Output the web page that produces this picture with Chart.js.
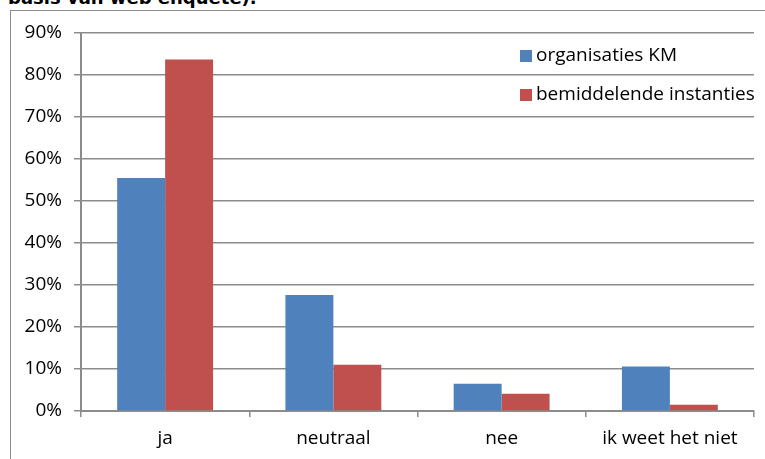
<!DOCTYPE html>
<html><head><meta charset="utf-8">
<script src="https://cdn.jsdelivr.net/npm/chart.js@4/dist/chart.umd.min.js"></script>
<style>
html,body{margin:0;padding:0;background:#fff;}
#wrap{position:relative;width:765px;height:459px;overflow:hidden;}
#frame{position:absolute;left:10px;top:10px;width:800px;height:500px;border:1px solid #8c8c8c;box-sizing:border-box;}
#title{position:absolute;left:8px;top:-13px;font-family:"DejaVu Sans",Verdana,sans-serif;font-weight:bold;font-size:18px;line-height:21px;color:#000;white-space:nowrap;}
#c{position:absolute;left:0;top:0;}
#legend{position:absolute;left:520px;top:42px;font-family:"Open Sans",sans-serif;font-size:19px;color:#000;}
#legend div{height:39px;line-height:24px;white-space:nowrap;}
#legend span{display:inline-block;width:12px;height:12px;margin-right:4px;vertical-align:-1px;}
</style></head>
<body><div id="wrap">
<div id="frame"></div>
<div id="title">basis van web enquete).</div>
<canvas id="c" width="765" height="459"></canvas>
<div id="legend"></div>
</div>
<script>
const categories = ["ja", "neutraal", "nee", "ik weet het niet"];
const seriesNames = ["organisaties KM", "bemiddelende instanties"];
const organisatiesKM = [55.5, 27.6, 6.5, 10.6];
const bemiddelendeInstanties = [83.7, 11.0, 4.1, 1.5];
const colors = ["#4F81BD", "#C0504D"];

const FONT = {family: "'Open Sans', sans-serif", size: 19};
const GRID = "#8c8c8c";

new Chart(document.getElementById('c'), {
  type: 'bar',
  data: {
    labels: categories,
    datasets: [
      {label: seriesNames[0], data: organisatiesKM, backgroundColor: colors[0], borderWidth: 0, categoryPercentage: 0.57, barPercentage: 1},
      {label: seriesNames[1], data: bemiddelendeInstanties, backgroundColor: colors[1], borderWidth: 0, categoryPercentage: 0.57, barPercentage: 1}
    ]
  },
  options: {
    responsive: false,
    animation: false,
    devicePixelRatio: 1,
    layout: {padding: {left: 0, right: 11, top: 33, bottom: 0}},
    plugins: {legend: {display: false}, title: {display: false}, tooltip: {enabled: false}},
    scales: {
      x: {
        offset: true,
        grid: {display: true, drawOnChartArea: false, offset: true, color: GRID, lineWidth: 1.5, tickLength: 6},
        border: {color: GRID, width: 2},
        ticks: {color: '#000', font: FONT, padding: 10},
        afterFit: s => { s.height = 48; }
      },
      y: {
        min: 0, max: 90,
        ticks: {stepSize: 10, color: '#000', font: FONT, padding: 12, callback: v => v + '%'},
        grid: {color: GRID, lineWidth: 1.5, tickLength: 7},
        border: {color: GRID, width: 2},
        afterFit: s => { s.width = 81; }
      }
    }
  }
});

const lg = document.getElementById('legend');
seriesNames.forEach((n, i) => {
  const d = document.createElement('div');
  const sq = document.createElement('span');
  sq.style.background = colors[i];
  d.appendChild(sq);
  d.appendChild(document.createTextNode(n));
  lg.appendChild(d);
});
</script>
</body></html>
